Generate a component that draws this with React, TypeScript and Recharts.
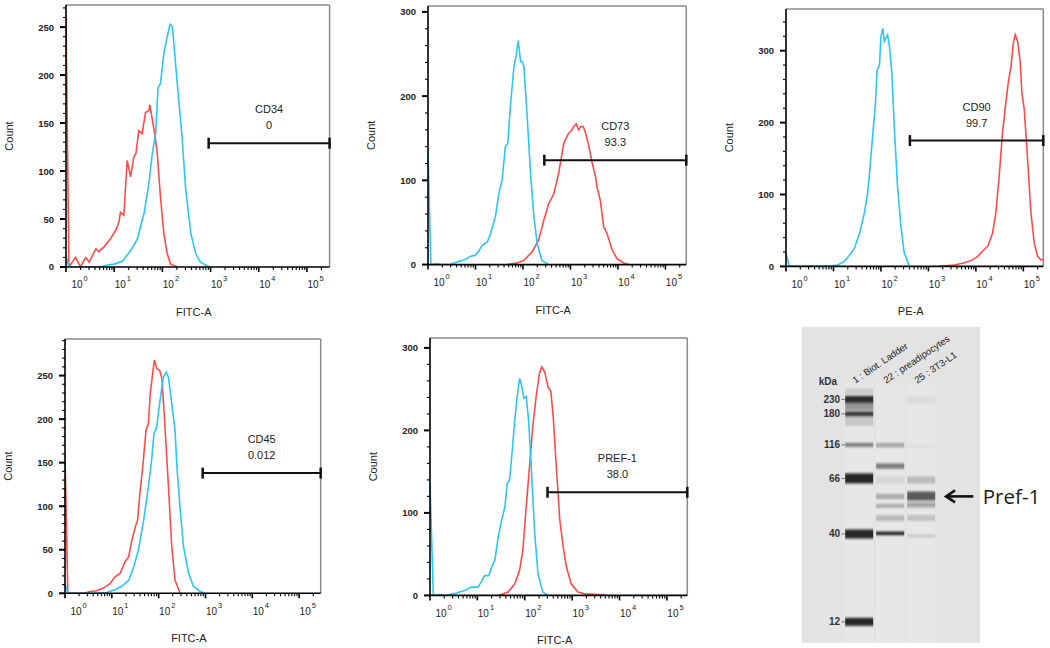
import React from 'react';
import {
  LineChart,
  Line,
  XAxis,
  YAxis,
  ReferenceLine,
  ReferenceArea,
  ScatterChart,
  Scatter,
} from 'recharts';

type Pt = [number, number];

// ---------- Flow cytometry histograms: [log10(intensity), count] ----------
const cd34Stained: Pt[] = [[0, 262], [0.06, 0], [0.2, 10], [0.3, 0], [0.41, 10], [0.48, 5], [0.62, 19], [0.68, 16], [0.79, 21], [0.93, 30], [1.03, 38], [1.1, 47], [1.13, 57], [1.2, 54], [1.27, 111], [1.34, 94], [1.41, 115], [1.45, 118], [1.51, 142], [1.58, 139], [1.65, 161], [1.72, 163], [1.74, 169], [1.83, 142], [1.89, 121], [1.96, 73], [2.03, 35], [2.1, 14], [2.17, 3], [2.31, 0]];
const cd34Isotype: Pt[] = [[0, 12], [0.06, 0], [0.7, 0], [0.86, 2], [1.0, 3], [1.17, 6], [1.34, 17], [1.48, 29], [1.62, 56], [1.72, 87], [1.79, 118], [1.86, 139], [1.91, 187], [1.96, 191], [2.03, 222], [2.1, 240], [2.16, 253], [2.21, 250], [2.28, 208], [2.34, 174], [2.41, 135], [2.48, 83], [2.59, 35], [2.69, 14], [2.79, 5], [2.97, 0]];

const cd73Stained: Pt[] = [[1.67, 0], [1.88, 2], [2.02, 5], [2.19, 15], [2.33, 29], [2.44, 53], [2.54, 72], [2.65, 84], [2.75, 108], [2.86, 144], [2.96, 156], [3.01, 158], [3.07, 164], [3.12, 167], [3.17, 160], [3.22, 164], [3.27, 164], [3.32, 156], [3.39, 140], [3.46, 120], [3.53, 104], [3.56, 92], [3.63, 76], [3.7, 45], [3.77, 37], [3.88, 17], [3.98, 7], [4.12, 2], [4.23, 0]];
const cd73Isotype: Pt[] = [[0, 134], [0.06, 0], [0.19, 1], [0.3, 0], [0.47, 0], [0.61, 3], [0.79, 6], [0.9, 10], [1.0, 11], [1.07, 16], [1.14, 23], [1.25, 27], [1.32, 37], [1.42, 57], [1.49, 84], [1.56, 100], [1.63, 140], [1.68, 144], [1.74, 191], [1.81, 235], [1.86, 249], [1.9, 266], [1.95, 241], [1.98, 241], [2.02, 235], [2.09, 175], [2.16, 108], [2.23, 57], [2.3, 25], [2.4, 5], [2.54, 0]];

const cd90Stained: Pt[] = [[3.23, 0], [3.55, 2], [3.76, 5], [3.9, 8], [4.04, 14], [4.14, 21], [4.25, 28], [4.35, 46], [4.42, 74], [4.49, 125], [4.56, 185], [4.63, 227], [4.68, 255], [4.74, 278], [4.79, 311], [4.83, 322], [4.88, 313], [4.93, 287], [4.97, 241], [5.02, 218], [5.09, 148], [5.16, 74], [5.23, 32], [5.3, 14], [5.37, 9], [5.44, 10]];
const cd90Isotype: Pt[] = [[0, 18], [0.07, 0], [0.74, 0], [0.95, 1], [1.09, 2], [1.23, 7], [1.34, 16], [1.44, 25], [1.55, 46], [1.65, 74], [1.72, 102], [1.76, 130], [1.83, 185], [1.88, 222], [1.92, 273], [1.97, 280], [2.0, 320], [2.04, 331], [2.07, 313], [2.11, 318], [2.14, 322], [2.18, 306], [2.23, 269], [2.28, 195], [2.35, 111], [2.42, 56], [2.49, 19], [2.6, 0]];

const cd45Stained: Pt[] = [[0, 160], [0.06, 0], [0.4, 0], [0.54, 2], [0.68, 3], [0.82, 6], [0.96, 11], [1.07, 19], [1.18, 23], [1.28, 36], [1.36, 42], [1.43, 61], [1.5, 76], [1.55, 84], [1.6, 115], [1.66, 145], [1.73, 187], [1.78, 195], [1.82, 229], [1.88, 256], [1.91, 268], [1.96, 258], [2.02, 256], [2.07, 247], [2.14, 187], [2.21, 122], [2.28, 54], [2.35, 15], [2.46, 0]];
const cd45Isotype: Pt[] = [[0, 11], [0.06, 0], [0.68, 0], [0.89, 1], [1.07, 4], [1.21, 8], [1.36, 15], [1.46, 29], [1.57, 50], [1.68, 84], [1.78, 122], [1.85, 153], [1.9, 183], [1.96, 191], [2.02, 218], [2.1, 248], [2.16, 254], [2.21, 248], [2.28, 218], [2.35, 187], [2.39, 145], [2.46, 96], [2.53, 54], [2.64, 23], [2.74, 8], [2.89, 2], [2.99, 0]];

const pref1Stained: Pt[] = [[1.44, 0], [1.65, 4], [1.79, 14], [1.89, 30], [1.96, 55], [2.03, 107], [2.1, 156], [2.17, 205], [2.24, 241], [2.31, 269], [2.36, 277], [2.42, 271], [2.49, 253], [2.55, 247], [2.6, 217], [2.67, 152], [2.74, 91], [2.81, 59], [2.88, 34], [2.98, 14], [3.12, 4], [3.26, 2], [3.54, 1], [3.72, 0]];
const pref1Isotype: Pt[] = [[0, 136], [0.07, 0], [0.2, 1], [0.35, 0], [0.56, 3], [0.73, 6], [0.87, 10], [1.01, 10], [1.08, 16], [1.15, 24], [1.24, 24], [1.3, 34], [1.37, 43], [1.44, 71], [1.51, 91], [1.58, 107], [1.63, 136], [1.68, 140], [1.73, 172], [1.79, 213], [1.84, 241], [1.89, 263], [1.94, 253], [1.98, 239], [2.03, 241], [2.08, 213], [2.14, 152], [2.21, 75], [2.28, 26], [2.38, 4], [2.49, 0]];

const stainedSeries = [cd34Stained, cd73Stained, cd90Stained, cd45Stained, pref1Stained];
const isotypeSeries = [cd34Isotype, cd73Isotype, cd90Isotype, cd45Isotype, pref1Isotype];
const markerNames = ['CD34', 'CD73', 'CD90', 'CD45', 'PREF-1'];
const markerValues = ['0', '93.3', '99.7', '0.012', '38.0'];
const channelNames = ['FITC-A', 'FITC-A', 'PE-A', 'FITC-A', 'FITC-A'];
const gateStarts = [2.96, 2.45, 2.61, 2.94, 2.48];
const gateCounts = [129, 124, 175, 138, 125];
const yMaxima = [273, 307, 358, 292, 312];
const yMajorSteps = [50, 100, 100, 50, 100];
const yMinorSteps = [10, 20, 20, 10, 20];
const xMinima = [0, 0, 0, 0, 0];
const xMaxima = [5.47, 5.44, 5.42, 5.46, 5.43];
const decades = [0, 1, 2, 3, 4, 5];
const decadeMultipliers = [1, 2, 3, 4, 5, 6, 7, 8, 9];

// ---------- Capillary western (lanes / bands) ----------
const laneNames = ['1 : Biot. Ladder', '22 : preadipocytes', '25 : 3T3-L1'];
const laneIndex = [1, 2, 3];
const ladderKda = ['230', '180', '116', '66', '40', '12'];
const ladderMigration = [23.0, 27.6, 37.4, 48.0, 65.6, 93.4];
const ladderIntensity = [0.9, 0.8, 0.5, 0.92, 0.92, 0.92];
const ladderSmearMigration = [20.5, 25.2, 30.0];
const ladderSmearIntensity = [0.12, 0.4, 0.14];
const lane2Migration = [37.5, 44.1, 48.5, 53.7, 56.7, 60.6, 65.4];
const lane2Intensity = [0.33, 0.52, 0.07, 0.3, 0.26, 0.2, 0.95];
const lane3Migration = [23.2, 37.7, 48.5, 53.6, 56.4, 60.5, 66.2];
const lane3Intensity = [0.05, 0.04, 0.2, 0.66, 0.33, 0.16, 0.12];
const pref1Migration = 53.7;

// band heights in px (style)
const ladderBandPx = [7, 5, 4, 10, 9, 8];
const ladderSmearPx = [6, 8, 9];
const lane2BandPx = [4, 5, 8, 5, 4, 6, 3.5];
const lane3BandPx = [9, 4, 7, 9, 5, 6, 3.5];

const FONT = '"Liberation Sans", Arial, sans-serif';
const RED = '#ff4a4a';
const BLUE = '#2bc6f5';

// plot frames (page px)
const frames = [
  { l: 65.7, r: 329.3, t: 5, b: 267 },
  { l: 427.7, r: 686, t: 5.7, b: 264.3 },
  { l: 786, r: 1043.3, t: 9.3, b: 266.7 },
  { l: 65, r: 320.7, t: 339, b: 593.3 },
  { l: 430, r: 687.3, t: 338.3, b: 595.7 },
];

const XTick = (props: any) => {
  const { x, y, payload } = props;
  const v = payload.value as number;
  const d = Math.floor(v + 1e-6);
  const k = Math.round(Math.pow(10, v - d));
  const major = k === 1;
  const off = d === 0 ? 11 : 6;
  return (
    <g>
      <line x1={x} x2={x} y1={y} y2={y + (major ? 5 : 3)} stroke="#000" strokeWidth={major ? 1.6 : 1.1} />
      {major && (
        <text x={x + off} y={y + 21.5} textAnchor="middle" fontFamily={FONT} fontSize={10} fill="#222">
          10
        </text>
      )}
      {major && (
        <text x={x + off + 6.5} y={y + 14.5} textAnchor="start" fontFamily={FONT} fontSize={7.5} fill="#222">
          {d}
        </text>
      )}
    </g>
  );
};

const makeYTick = (majorStep: number) => (props: any) => {
  const { x, y, payload } = props;
  const v = payload.value as number;
  const major = Math.abs(v / majorStep - Math.round(v / majorStep)) < 1e-6;
  return (
    <g>
      <line x1={x - (major ? 6 : 3)} x2={x} y1={y} y2={y} stroke="#000" strokeWidth={major ? 2 : 1.1} />
      {major && (
        <text x={x - 12} y={y + 3.5} textAnchor="end" fontFamily={FONT} fontSize={9.5} fontWeight="bold" fill="#222">
          {v}
        </text>
      )}
    </g>
  );
};

const makeGate = (name: string, value: string) => (p: any) => {
  const xa = Math.min(p.x1, p.x2);
  const xb = Math.max(p.x1, p.x2);
  const y = p.y1;
  const cx = (xa + xb) / 2;
  return (
    <g>
      <line x1={xa} x2={xb} y1={y} y2={y} stroke="#111" strokeWidth={2} />
      <line x1={xa} x2={xa} y1={y - 5.5} y2={y + 5.5} stroke="#111" strokeWidth={2.5} />
      <line x1={xb} x2={xb} y1={y - 5.5} y2={y + 5.5} stroke="#111" strokeWidth={2.5} />
      <text x={cx} y={y - 30} textAnchor="middle" fontFamily={FONT} fontSize={11} fill="#222">
        {name}
      </text>
      <text x={cx} y={y - 14} textAnchor="middle" fontFamily={FONT} fontSize={11} fill="#222">
        {value}
      </text>
    </g>
  );
};

const Histogram = ({ i }: { i: number }) => {
  const f = frames[i];
  const ML = 70, MT = 10, MR = 15, MB = 60, YW = 40, XH = 30;
  const plotW = f.r - f.l;
  const plotH = f.b - f.t;
  const width = plotW + ML + MR;
  const height = plotH + MT + MB;
  const xMin = xMinima[i];
  const xMax = xMaxima[i];
  const yMax = yMaxima[i];
  const xTicks = decades
    .flatMap((d) => decadeMultipliers.map((k) => d + Math.log10(k)))
    .filter((v) => v >= xMin - 1e-9 && v <= xMax);
  const yTicks: number[] = [];
  for (let v = 0; v <= yMax; v += yMinorSteps[i]) yTicks.push(v);
  const toPts = (arr: Pt[]) => arr.map(([x, y]) => ({ x, y }));
  const countLabel = () => (
    <text
      x={ML - 56}
      y={MT + plotH / 2}
      transform={`rotate(-90 ${ML - 56} ${MT + plotH / 2})`}
      textAnchor="middle"
      dominantBaseline="middle"
      fontFamily={FONT}
      fontSize={11}
      fill="#222"
    >
      Count
    </text>
  );
  const channelLabel = () => (
    <text x={ML + plotW / 2 - 4} y={MT + plotH + 49} textAnchor="middle" fontFamily={FONT} fontSize={11} fill="#222">
      {channelNames[i]}
    </text>
  );
  return (
    <div style={{ position: 'absolute', left: f.l - ML, top: f.t - MT, width, height }}>
      <LineChart width={width} height={height} margin={{ top: MT, right: MR, left: ML - YW, bottom: MB - XH }}>
        <XAxis
          type="number"
          dataKey="x"
          domain={[xMin, xMax]}
          allowDataOverflow
          ticks={xTicks}
          interval={0}
          tickSize={0}
          tickMargin={0}
          height={XH}
          tick={XTick}
          tickLine={false}
          axisLine={{ stroke: '#000', strokeWidth: 1.6 }}
          label={{ content: channelLabel }}
        />
        <YAxis
          type="number"
          domain={[0, yMax]}
          allowDataOverflow
          ticks={yTicks}
          interval={0}
          tickSize={0}
          tickMargin={0}
          width={YW}
          tick={makeYTick(yMajorSteps[i])}
          tickLine={false}
          axisLine={{ stroke: '#000', strokeWidth: 1.6 }}
          label={{ content: countLabel }}
        />
        <ReferenceLine y={yMax} stroke="#8a8a8a" strokeWidth={1.5} ifOverflow="visible" />
        <ReferenceLine x={xMax} stroke="#8a8a8a" strokeWidth={1.5} ifOverflow="visible" />
        <Line data={toPts(stainedSeries[i])} dataKey="y" type="linear" stroke={RED} strokeWidth={1.6} dot={false} isAnimationActive={false} />
        <Line data={toPts(isotypeSeries[i])} dataKey="y" type="linear" stroke={BLUE} strokeWidth={1.6} dot={false} isAnimationActive={false} />
        <ReferenceLine
          segment={[{ x: gateStarts[i], y: gateCounts[i] }, { x: xMax, y: gateCounts[i] }]}
          ifOverflow="visible"
          shape={makeGate(markerNames[i], markerValues[i])}
        />
      </LineChart>
    </div>
  );
};

type Band = { x: number; y: number; a: number; h: number };

const buildBands = (): Band[] => {
  const out: Band[] = [];
  ladderSmearMigration.forEach((m, j) => out.push({ x: laneIndex[0], y: m, a: ladderSmearIntensity[j], h: ladderSmearPx[j] }));
  ladderMigration.forEach((m, j) => out.push({ x: laneIndex[0], y: m, a: ladderIntensity[j], h: ladderBandPx[j] }));
  lane2Migration.forEach((m, j) => out.push({ x: laneIndex[1], y: m, a: lane2Intensity[j], h: lane2BandPx[j] }));
  lane3Migration.forEach((m, j) => out.push({ x: laneIndex[2], y: m, a: lane3Intensity[j], h: lane3BandPx[j] }));
  return out;
};

const BandShape = (p: any) => {
  const b: Band = p.payload;
  const w = 28;
  return (
    <g filter="url(#bandBlur)">
      <rect x={p.cx - w / 2} y={p.cy - b.h / 2} width={w} height={b.h} fill="#141414" fillOpacity={b.a} />
    </g>
  );
};

const LaneTick = (props: any) => {
  const { x, y, payload } = props;
  const idx = laneIndex.indexOf(payload.value);
  const tx = x - 4;
  const ty = y + 57;
  return (
    <text x={tx} y={ty} transform={`rotate(-34 ${tx} ${ty})`} textAnchor="start" fontFamily={FONT} fontSize={9.5} fill="#222">
      {laneNames[idx]}
    </text>
  );
};

const KdaTick = (props: any) => {
  const { x, y, payload } = props;
  const idx = ladderMigration.indexOf(payload.value);
  return (
    <g>
      <text x={x + 38.5} y={y + 3.5} textAnchor="end" fontFamily={FONT} fontSize={10} fontWeight="bold" fill="#333">
        {ladderKda[idx]}
      </text>
      <line x1={x + 40} x2={x + 43} y1={y} y2={y} stroke="#666" strokeWidth={1} />
    </g>
  );
};

const ArrowShape = (p: any) => {
  const tip = Math.min(p.x1, p.x2);
  const tail = Math.max(p.x1, p.x2);
  const y = p.y1;
  return (
    <g>
      <line x1={tip + 1} x2={tail} y1={y} y2={y} stroke="#111" strokeWidth={2.6} />
      <polyline points={`${tip + 10},${y - 6} ${tip + 1},${y} ${tip + 10},${y + 6}`} fill="none" stroke="#111" strokeWidth={2.6} />
      <text x={tail + 9.5} y={y + 7.5} textAnchor="start" fontFamily='"Open Sans", "Noto Sans", sans-serif' fontSize={20.5} fill="#1a1a1a">
        Pref-1
      </text>
    </g>
  );
};

const Blot = () => {
  const left = 790, top = 300, width = 260, height = 348;
  const XH = 20, YW = 10;
  const bands = buildBands();
  const kdaLabel = () => (
    <text x={38} y={84.5} textAnchor="middle" fontFamily={FONT} fontSize={10} fontWeight="bold" fill="#333">
      kDa
    </text>
  );
  return (
    <div style={{ position: 'absolute', left, top, width, height }}>
      <ScatterChart width={width} height={height} margin={{ top: 26.7 - XH, right: 0, left: 11.7 - YW, bottom: 5.3 }}>
        <defs>
          <filter id="bandBlur" x="-10%" y="-100%" width="120%" height="300%">
            <feGaussianBlur stdDeviation="0.5 1.2" />
          </filter>
        </defs>
        <XAxis
          type="number"
          dataKey="x"
          orientation="top"
          domain={[-0.855, 7.155]}
          allowDataOverflow
          ticks={laneIndex}
          interval={0}
          tickSize={0}
          tickMargin={0}
          height={XH}
          tick={LaneTick}
          tickLine={false}
          axisLine={false}
        />
        <YAxis
          type="number"
          dataKey="y"
          reversed
          domain={[0, 100]}
          allowDataOverflow
          ticks={ladderMigration}
          interval={0}
          tickSize={0}
          tickMargin={0}
          width={YW}
          tick={KdaTick}
          tickLine={false}
          axisLine={false}
          label={{ content: kdaLabel }}
        />
        <ReferenceArea x1={-0.855} x2={4.9} y1={0} y2={100} fill="#e3e3e3" fillOpacity={1} stroke="none" ifOverflow="visible" />
        {laneIndex.map((l) => (
          <ReferenceArea key={l} x1={l - 0.46} x2={l + 0.46} y1={18} y2={100} fill="#e7e7e7" fillOpacity={1} stroke="none" ifOverflow="visible" />
        ))}
        <Scatter data={bands} shape={BandShape} isAnimationActive={false} />
        <ReferenceLine
          segment={[{ x: 4.68, y: pref1Migration }, { x: 3.77, y: pref1Migration }]}
          ifOverflow="visible"
          shape={ArrowShape}
        />
      </ScatterChart>
    </div>
  );
};

export default function App() {
  return (
    <div
      style={{
        position: 'absolute',
        left: 0,
        top: 0,
        width: 1050,
        height: 648,
        overflow: 'hidden',
        background: '#fff',
      }}
    >
      {[0, 1, 2, 3, 4].map((i) => (
        <Histogram key={i} i={i} />
      ))}
      <Blot />
    </div>
  );
}
